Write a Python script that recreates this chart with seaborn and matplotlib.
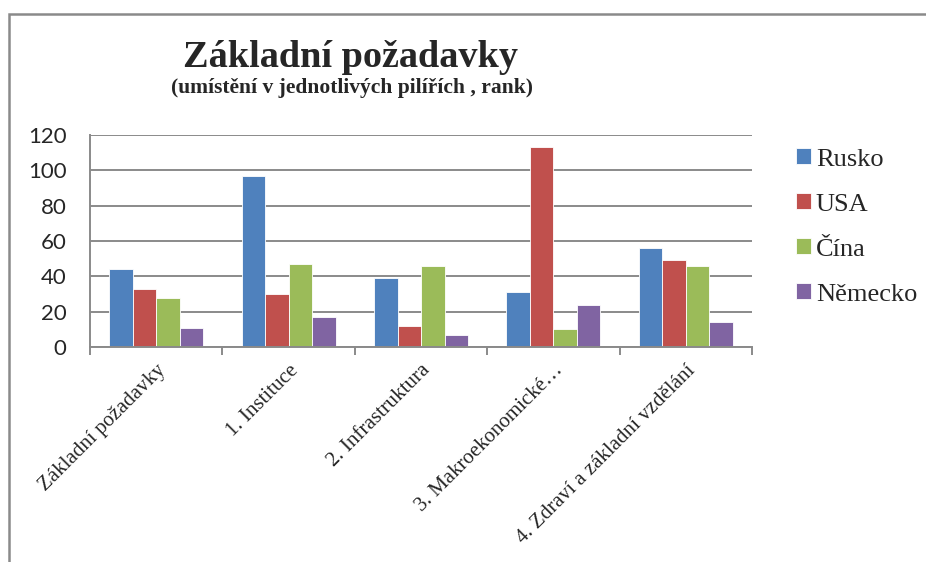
import pandas as pd
import matplotlib
matplotlib.use("Agg")
import matplotlib.pyplot as plt
from matplotlib.patches import Rectangle
import seaborn as sns

categories = ["Základní požadavky", "1. Instituce", "2. Infrastruktura",
              "3. Makroekonomické…", "4. Zdraví a základní vzdělání"]
countries = ["Rusko", "USA", "Čína", "Německo"]
rusko = [44, 97, 39, 31, 56]
usa = [33, 30, 12, 113, 49]
cina = [28, 47, 46, 10, 46]
nemecko = [11, 17, 7, 24, 14]
colors = ["#4F81BD", "#C0504D", "#9BBB59", "#8064A2"]

rows = []
for name, vals in zip(countries, [rusko, usa, cina, nemecko]):
    for cat, v in zip(categories, vals):
        rows.append({"pilir": cat, "zeme": name, "rank": v})
df = pd.DataFrame(rows)

sns.set_theme(style="white")
plt.rcParams["font.family"] = ["Liberation Serif", "DejaVu Serif"]

fig = plt.figure(figsize=(9.26, 5.62), dpi=100)
ax = fig.add_axes([0.0972, 0.3826, 0.715, 0.3772])

sns.barplot(data=df, x="pilir", y="rank", hue="zeme", order=categories,
            hue_order=countries, palette=colors, width=0.71, ax=ax,
            edgecolor="white", linewidth=0.6, saturation=1)

ax.set_ylim(0, 120)
ax.set_xlim(-0.5, 4.5)
ax.set_yticks(range(0, 121, 20))
ax.yaxis.grid(True, color="#8a8a8a", linewidth=1.4)
ax.set_axisbelow(True)
ax.set_xlabel(""); ax.set_ylabel("")
for s in ["top", "right"]:
    ax.spines[s].set_visible(False)
for s in ["left", "bottom"]:
    ax.spines[s].set_color("#8a8a8a")
    ax.spines[s].set_linewidth(1.4)

# y ticks in a Calibri-like sans
ax.tick_params(axis="y", length=5, width=1.4, color="#8a8a8a", labelsize=16, pad=12)
for lab in ax.get_yticklabels():
    lab.set_fontfamily("Lato")

# category boundary ticks, labels at centres
ax.set_xticks(range(5))
ax.set_xticks([i - 0.5 for i in range(6)], minor=True)
ax.tick_params(axis="x", which="major", length=0, pad=10)
ax.tick_params(axis="x", which="minor", length=6, width=1.4, color="#8a8a8a", bottom=True)
ax.set_xticklabels(categories, rotation=45, ha="right", rotation_mode="anchor", fontsize=15)

ax.legend(loc="upper left", bbox_to_anchor=(1.046, 1.0), frameon=False,
          fontsize=19, handlelength=0.56, handleheight=0.56, labelspacing=0.86,
          handletextpad=0.2, borderpad=0.0)

fig.text(0.378, 1 - 67 / 562, "Základní požadavky", ha="center", va="baseline",
         fontsize=27.5, fontweight="bold")
fig.text(0.380, 1 - 93 / 562, "(umístění v jednotlivých pilířích , rank)", ha="center",
         va="baseline", fontsize=15.5, fontweight="bold")

# outer chart frame, open towards right and bottom
fig.patches.append(Rectangle((9 / 926, -0.2), 1.2, 1.2 - 14 / 562,
                             transform=fig.transFigure, fill=False,
                             edgecolor="#8a8a8a", linewidth=1.8))

fig.savefig("out.png", dpi=100)
